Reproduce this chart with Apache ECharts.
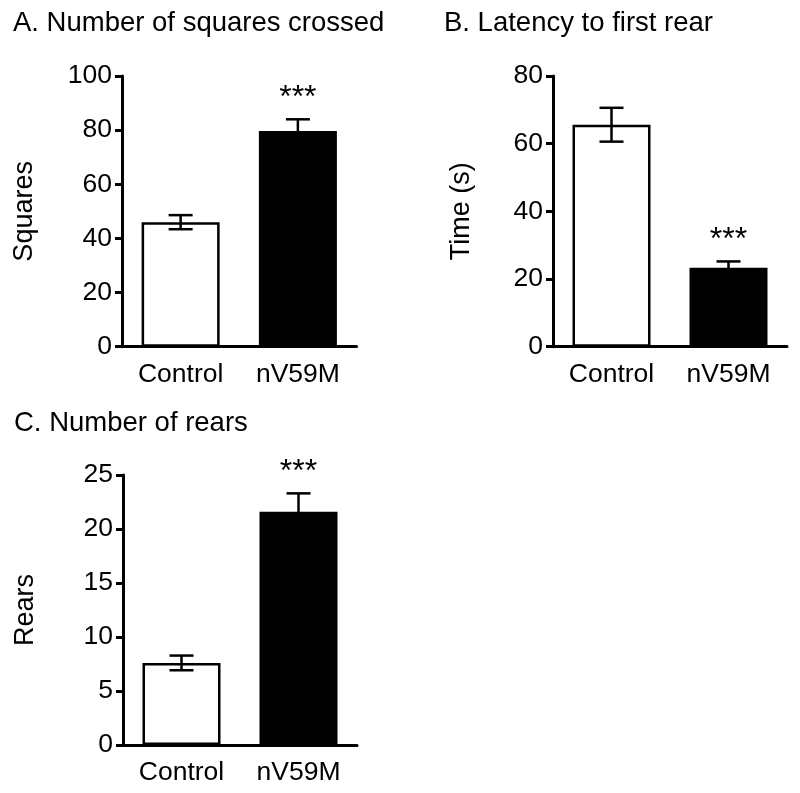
<!DOCTYPE html>
<html>
<head>
<meta charset="utf-8">
<script src="https://cdn.jsdelivr.net/npm/echarts@6/dist/echarts.min.js"></script>
<style>
  html, body { margin: 0; padding: 0; background: #fff; }
  #chart { width: 800px; height: 793px; }
</style>
</head>
<body>
<div id="chart"></div>
<script>
const categories = ['Control', 'nV59M']
const stars = ['', '***']

// A. squares crossed
const squaresMean = [46.0, 79.7]
const squaresSem = [2.6, 4.3]
// B. latency to first rear (s)
const latencyMean = [65.6, 23.3]
const latencySem = [5.0, 1.9]
// C. rears
const rearsMean = [7.6, 21.6]
const rearsSem = [0.68, 1.7]

const fills = ['#ffffff', '#000000']
const font = '"Liberation Sans", Arial, sans-serif'

const panels = [
  { title: 'A. Number of squares crossed', titlePos: { left: 13, top: 9 },
    grid: { left: 122, top: 76, width: 234.5, height: 270.7 },
    mean: squaresMean, sem: squaresSem, max: 100, interval: 20, name: 'Squares', nameGap: 84 },
  { title: 'B. Latency to first rear', titlePos: { left: 444, top: 9 },
    grid: { left: 553, top: 76, width: 234, height: 270.7 },
    mean: latencyMean, sem: latencySem, max: 80, interval: 20, name: 'Time (s)', nameGap: 78 },
  { title: 'C. Number of rears', titlePos: { left: 14, top: 409 },
    grid: { left: 123, top: 475, width: 234, height: 270 },
    mean: rearsMean, sem: rearsSem, max: 25, interval: 5, name: 'Rears', nameGap: 84 }
]

const lineStyle = { color: '#000', width: 3 }

const makeXAxis = (i) => ({
  type: 'category',
  gridIndex: i,
  data: categories,
  axisLine: { lineStyle },
  axisTick: { alignWithLabel: true, length: 7, lineStyle },
  axisLabel: { color: '#000', fontSize: 26.5, fontFamily: font, margin: 14 },
  splitLine: { show: false }
})

const makeYAxis = (i, p) => ({
  type: 'value',
  gridIndex: i,
  min: 0,
  max: p.max,
  interval: p.interval,
  name: p.name,
  nameLocation: 'middle',
  nameGap: p.nameGap,
  nameTextStyle: { color: '#000', fontSize: 27, fontFamily: font },
  axisLine: { show: true, lineStyle },
  axisTick: { show: true, length: 7, lineStyle },
  axisLabel: { color: '#000', fontSize: 26.5, fontFamily: font, margin: 10 },
  splitLine: { show: false }
})

const makeBars = (i, p) => ({
  type: 'bar',
  xAxisIndex: i,
  yAxisIndex: i,
  barWidth: 78,
  data: p.mean.map((v, k) => ({
    value: v,
    itemStyle: { color: fills[k], borderColor: '#000', borderWidth: 2.5 }
  })),
  silent: true
})

// error bars + significance stars
const makeErrors = (i, p) => ({
  type: 'custom',
  xAxisIndex: i,
  yAxisIndex: i,
  z: 5,
  data: p.mean.map((v, k) => [k, v, p.sem[k]]),
  renderItem: (params, api) => {
    const x = api.value(0)
    const m = api.value(1)
    const e = api.value(2)
    const hi = api.coord([x, m + e])
    const lo = api.coord([x, m - e])
    const cap = 12
    const style = { stroke: '#000', lineWidth: 2.5 }
    const children = [
      { type: 'line', shape: { x1: hi[0], y1: hi[1], x2: lo[0], y2: lo[1] }, style },
      { type: 'line', shape: { x1: hi[0] - cap, y1: hi[1], x2: hi[0] + cap, y2: hi[1] }, style },
      { type: 'line', shape: { x1: lo[0] - cap, y1: lo[1], x2: lo[0] + cap, y2: lo[1] }, style }
    ]
    const s = stars[params.dataIndex]
    if (s) {
      children.push({
        type: 'text',
        style: {
          text: s, x: hi[0], y: hi[1] - 21,
          align: 'center', verticalAlign: 'middle',
          fill: '#000', font: '32px ' + font
        }
      })
    }
    return { type: 'group', children }
  },
  silent: true
})

const chart = echarts.init(document.getElementById('chart'))

const option = {
  animation: false,
  backgroundColor: '#fff',
  title: panels.map(p => ({
    text: p.title,
    left: p.titlePos.left,
    top: p.titlePos.top,
    padding: 0,
    textStyle: { color: '#000', fontSize: 27.5, fontWeight: 'normal', fontFamily: font }
  })),
  grid: panels.map(p => p.grid),
  xAxis: panels.map((p, i) => makeXAxis(i)),
  yAxis: panels.map((p, i) => makeYAxis(i, p)),
  series: [
    ...panels.map((p, i) => makeBars(i, p)),
    ...panels.map((p, i) => makeErrors(i, p))
  ]
}

chart.setOption(option)
</script>
</body>
</html>
